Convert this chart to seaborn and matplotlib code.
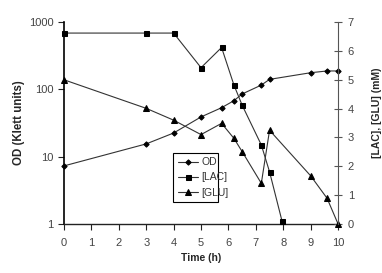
import numpy as np
import pandas as pd
import matplotlib
matplotlib.use("Agg")
import matplotlib.pyplot as plt
import seaborn as sns
from matplotlib.ticker import FixedLocator, FixedFormatter, NullLocator

# Data
od_time = [0, 3, 4, 5, 5.75, 6.2, 6.5, 7.2, 7.5, 9, 9.6, 10]
od_klett = [7.3, 15.5, 22.5, 39, 53.5, 68, 85.5, 116, 141, 177, 188, 188]

lac_time = [0, 3, 4, 5, 5.75, 6.2, 6.5, 7.2, 7.5, 7.95]
lac_mm = [6.62, 6.62, 6.62, 5.42, 6.12, 4.82, 4.12, 2.74, 1.81, 0.12]

glu_time = [0, 3, 4, 5, 5.75, 6.2, 6.5, 7.2, 7.5, 9, 9.6, 10]
glu_mm = [5.0, 4.01, 3.6, 3.1, 3.49, 2.97, 2.51, 1.41, 3.25, 1.67, 0.89, 0.0]

sns.set_style("white")
plt.rcParams["font.family"] = ["Liberation Sans", "DejaVu Sans"]

fig = plt.figure(figsize=(3.82, 2.73), dpi=100)
ax = fig.add_axes([0.1675, 0.1795, 0.7175, 0.7395])
ax2 = ax.twinx()

line_kw = dict(color="#333333", linewidth=0.8, markeredgecolor="black",
               markerfacecolor="black", clip_on=False)

sns.lineplot(x=od_time, y=od_klett, ax=ax, marker="D", markersize=2.7, **line_kw)
sns.lineplot(x=lac_time, y=lac_mm, ax=ax2, marker="s", markersize=3.6, **line_kw)
sns.lineplot(x=glu_time, y=glu_mm, ax=ax2, marker="^", markersize=4, **line_kw)

ax.set_yscale("log")
ax.set_xlim(0, 10)
ax.set_ylim(1, 1000)
ax2.set_ylim(0, 7)

ax.yaxis.set_major_locator(FixedLocator([1, 10, 100, 1000]))
ax.yaxis.set_major_formatter(FixedFormatter(["1", "10", "100", "1000"]))
ax.yaxis.set_minor_locator(NullLocator())
ax.set_xticks(range(0, 11))
ax2.set_yticks(range(0, 8))

ax.spines["top"].set_visible(False)
ax2.spines["top"].set_visible(False)
ax.spines["right"].set_visible(False)
ax.spines["left"].set_color("black")
ax.spines["left"].set_linewidth(1.2)
ax.spines["bottom"].set_color("#222222")
ax.spines["bottom"].set_linewidth(1.0)
ax2.spines["left"].set_visible(False)
ax2.spines["bottom"].set_visible(False)
ax2.spines["right"].set_color("#555555")
ax2.spines["right"].set_linewidth(0.8)

ax.tick_params(axis="x", direction="out", length=4, width=0.8, colors="#222222",
               labelsize=8, labelcolor="#444444", pad=6, bottom=True)
ax.tick_params(axis="y", direction="out", length=4, width=0.8, colors="#222222",
               labelsize=8, labelcolor="#444444", left=True)
ax2.tick_params(axis="y", direction="inout", length=6, width=0.8, colors="#555555",
                labelsize=8, labelcolor="#444444", pad=4, right=True)

ax.set_xlabel("Time (h)", fontsize=7.5, fontweight="bold", labelpad=4)
ax.set_ylabel("OD (Klett units)", fontsize=8.3, fontweight="bold", labelpad=2.5)
ax2.set_ylabel("[LAC], [GLU] (mM)", fontsize=7.5, fontweight="bold", labelpad=10)
ax2.yaxis.set_label_coords(1.125, 0.55)

handles = [ax.lines[0], ax2.lines[0], ax2.lines[1]]
leg = ax.legend(handles, ["OD", "[LAC]", "[GLU]"], loc="lower left",
                bbox_to_anchor=(0.38, 0.084, 0.2, 0.272), mode="expand",
                fontsize=7.5, frameon=True, fancybox=False, handlelength=2,
                handletextpad=0.3, borderpad=0.4, labelspacing=0.5)
leg.get_frame().set_edgecolor("black")
leg.get_frame().set_linewidth(0.8)
leg.get_frame().set_alpha(1)
for t in leg.get_texts():
    t.set_color("#333333")

fig.savefig("out.png", dpi=100)
plt.close(fig)
